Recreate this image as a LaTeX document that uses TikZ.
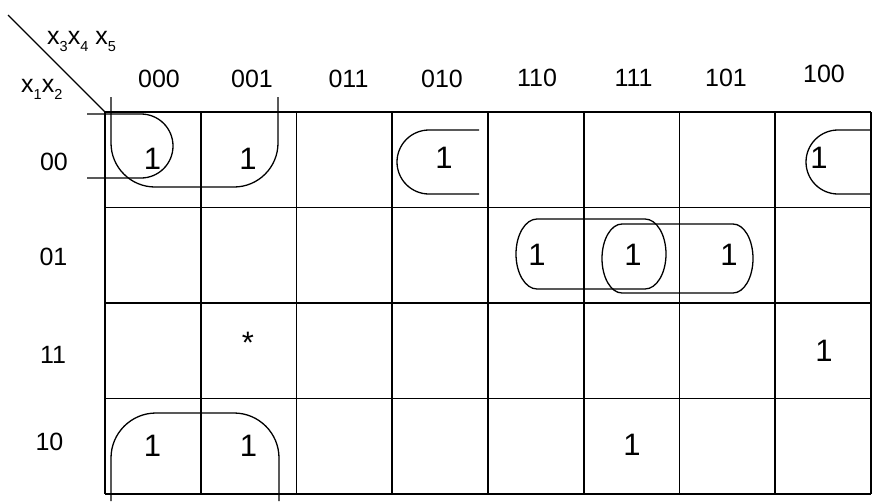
\documentclass[tikz,border=0pt]{standalone}
\usepackage{fontspec}
\setmainfont{Liberation Sans}
\usetikzlibrary{positioning}
\newcommand{\lowidx}[1]{\raisebox{-7pt}{\fontsize{14.5}{16}\selectfont #1}}

\begin{document}
\begin{tikzpicture}[x=1pt, y=-1pt, inner sep=0pt, font=\fontsize{25}{29}\selectfont,
  kline/.style={line width=1.8pt},
  ring/.style={line width=1.3pt},
  cellone/.style={font=\fontsize{31}{35}\selectfont}]
\useasboundingbox (0,0) rectangle (872,501);
% map grid
\foreach \i in {0,...,8} \draw[kline] (105+95.75*\i,112) -- (105+95.75*\i,494);
\foreach \j in {0,...,4} \draw[kline] (105,112+95.5*\j) -- (871,112+95.5*\j);
\coordinate (corner) at (105,112);
\coordinate (slash) at (8,15);
\draw[line width=1.3pt] (slash) -- (corner);
\node[anchor=base west] (topvars) at (47,44) {x\lowidx{3}x\lowidx{4} x\lowidx{5}};
\node[anchor=base west] (sidevars) at (21,92) {x\lowidx{1}x\lowidx{2}};
% column and row codes
\foreach \lab/\cx/\cy in {000/159/78.5,001/252/78.5,011/348.5/78.5,010/442/78.5,110/537/77.5,111/633.5/77.5,101/726/77.5,100/824/74}
  \node (col\lab) at (\cx,\cy) {\lab};
\foreach \lab/\cx/\cy in {00/54/162,01/53.5/257,11/53/355,10/49.5/442}
  \node (row\lab) at (\cx,\cy) {\lab};
% cell entries
\node[cellone] (m0) at (152.5,158.5) {1};
\node[cellone] (m1) at (248,158.5) {1};
\node[cellone] (m2) at (444,158) {1};
\node[cellone] (m4) at (819,158) {1};
\node[cellone] (m14) at (537,254.5) {1};
\node[cellone] (m15) at (633,254.5) {1};
\node[cellone] (m13) at (729,254.5) {1};
\node[cellone] (m25) at (248,343) {*};
\node[cellone] (m28) at (824,351) {1};
\node[cellone] (m16) at (152.5,446) {1};
\node[cellone] (m17) at (248.5,446) {1};
\node[cellone] (m23) at (632,444.5) {1};
% groupings
\draw[ring, rounded corners=32] (87,114) -- (173,114) -- (173,178) -- (87,178);
\draw[ring, rounded corners=44] (111,97) -- (111,187) -- (278,187) -- (278,97);
\draw[ring, rounded corners=32] (479,130) -- (397,130) -- (397,194) -- (479,194);
\draw[ring, rounded corners=32] (872,130) -- (806,130) -- (806,194) -- (872,194);
\draw[ring] (537,219) -- (645,219) arc[start angle=-90, end angle=90, x radius=21, y radius=35]
  -- (537,289) arc[start angle=90, end angle=270, x radius=21, y radius=35] -- cycle;
\draw[ring] (622,224) -- (733,224) arc[start angle=-90, end angle=90, x radius=20, y radius=34.5]
  -- (622,293) arc[start angle=90, end angle=270, x radius=20, y radius=34.5] -- cycle;
\draw[ring, rounded corners=45] (111,501) -- (111,413) -- (279,413) -- (279,501);
\end{tikzpicture}
\end{document}
